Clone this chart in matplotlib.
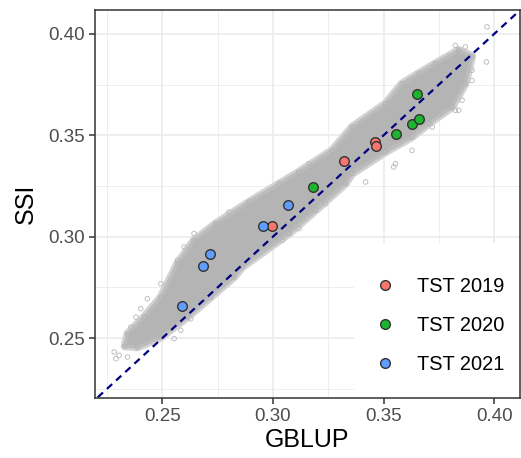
import numpy as np
import matplotlib
matplotlib.use("Agg")
import matplotlib.pyplot as plt
from matplotlib.lines import Line2D
from matplotlib.patches import Rectangle

plt.rcParams['font.family'] = ['Liberation Sans', 'DejaVu Sans']

# TST points
gblup_2019 = [0.2994, 0.3319, 0.3462, 0.3468]
ssi_2019 = [0.3051, 0.3373, 0.3466, 0.3447]
gblup_2020 = [0.3180, 0.3555, 0.3627, 0.3660, 0.3652]
ssi_2020 = [0.3243, 0.3508, 0.3556, 0.3580, 0.3704]
gblup_2021 = [0.2590, 0.2684, 0.2716, 0.2953, 0.3068]
ssi_2021 = [0.2659, 0.2854, 0.2914, 0.3051, 0.3154]

# outline of the dense grey cloud (upper edge left->right, lower edge right->left)
cloud_x = [0.2330, 0.2343, 0.2417, 0.2493, 0.2568, 0.2643, 0.2741, 0.2892, 0.3117,
           0.3268, 0.3358, 0.3509, 0.3584, 0.3659, 0.3735, 0.3840, 0.3900,
           0.3870, 0.3810, 0.3705, 0.3629, 0.3509, 0.3358, 0.3328, 0.3193,
           0.3072, 0.2861, 0.2824, 0.2719, 0.2613, 0.2493, 0.2387]
cloud_y = [0.2460, 0.2521, 0.2603, 0.2702, 0.2867, 0.2982, 0.3064, 0.3171, 0.3319,
           0.3426, 0.3541, 0.3656, 0.3755, 0.3805, 0.3854, 0.3920, 0.3890,
           0.3755, 0.3640, 0.3558, 0.3492, 0.3418, 0.3311, 0.3262, 0.3130,
           0.3015, 0.2850, 0.2801, 0.2702, 0.2603, 0.2504, 0.2455]

# scattered points around the cloud
sparse_x = [0.2282, 0.2304, 0.2342, 0.2290, 0.2357, 0.2380, 0.2402, 0.2432, 0.2493,
            0.2568, 0.2598, 0.2643, 0.2733, 0.2553, 0.2583, 0.2628, 0.2801, 0.2877,
            0.3027, 0.3163, 0.3117, 0.3042, 0.3238, 0.3403, 0.3524, 0.3614, 0.3825,
            0.3870, 0.3825, 0.3855, 0.3900, 0.3720, 0.3554, 0.3629, 0.3968, 0.3965,
            0.3900, 0.3840, 0.3546, 0.3419]
sparse_y = [0.2431, 0.2414, 0.2406, 0.2398, 0.2554, 0.2603, 0.2645, 0.2694, 0.2768,
            0.2883, 0.2949, 0.3015, 0.3047, 0.2497, 0.2538, 0.2595, 0.3121, 0.3146,
            0.3262, 0.3360, 0.3040, 0.2982, 0.3163, 0.3566, 0.3664, 0.3771, 0.3944,
            0.3936, 0.3623, 0.3673, 0.3821, 0.3541, 0.3360, 0.3426, 0.4035, 0.3862,
            0.3770, 0.3624, 0.3344, 0.3270]

fig = plt.figure(figsize=(5.21, 4.58), dpi=100)
ax = fig.add_axes([0.1823, 0.131, 0.8157, 0.847])

ax.set_xlim(0.2195, 0.4117)
ax.set_ylim(0.2204, 0.4118)

# soft halo, then the dense core
ax.fill(cloud_x, cloud_y, color='#cdcdcd', lw=6, ec='#d2d2d2', joinstyle='round', zorder=2)
ax.fill(cloud_x, cloud_y, color='#b4b4b4', lw=2.5, ec='#bcbcbc', joinstyle='round', zorder=2)
ax.scatter(cloud_x, cloud_y, s=11, facecolors='none', edgecolors='#b3b3b3',
           linewidths=0.6, zorder=2)
ax.scatter(sparse_x, sparse_y, s=11, facecolors='none', edgecolors='#b8b8b8',
           linewidths=0.6, zorder=2)

ax.plot([0.2, 0.45], [0.2, 0.45], ls=(0, (3.2, 2.4)), color='#00007f', lw=1.6, zorder=3)

for gx, gy, col in [(gblup_2019, ssi_2019, '#F8766D'),
                    (gblup_2020, ssi_2020, '#1DB52E'),
                    (gblup_2021, ssi_2021, '#619CFF')]:
    ax.scatter(gx, gy, s=48, color=col, edgecolors='#333333', linewidths=1.0, zorder=4)

ax.set_xticks([0.25, 0.30, 0.35, 0.40])
ax.set_yticks([0.25, 0.30, 0.35, 0.40])
ax.set_xticklabels(['0.25', '0.30', '0.35', '0.40'])
ax.set_yticklabels(['0.25', '0.30', '0.35', '0.40'])
ax.set_xticks([0.225, 0.275, 0.325, 0.375], minor=True)
ax.set_yticks([0.225, 0.275, 0.325, 0.375], minor=True)
ax.grid(which='major', color='#ebebeb', lw=1.2, zorder=0)
ax.grid(which='minor', color='#ebebeb', lw=0.6, zorder=0)
ax.set_axisbelow(True)
ax.tick_params(which='major', length=4, width=1.1, color='#333333',
               labelsize=13.5, labelcolor='#4d4d4d', pad=3)
ax.tick_params(which='minor', length=0)
for sp in ax.spines.values():
    sp.set_color('#333333')
    sp.set_linewidth(1.1)
    sp.set_zorder(6)

ax.set_xlabel('GBLUP', fontsize=18, labelpad=2)
ax.set_ylabel('SSI', fontsize=18, labelpad=8)

# white legend background
ax.add_patch(Rectangle((0.609, 0.0), 0.391, 0.40, transform=ax.transAxes,
                       facecolor='white', edgecolor='none', zorder=4.5))
handles = [Line2D([], [], ls='none', marker='o', ms=7, mfc=c, mec='#333333', mew=1.0)
           for c in ['#F8766D', '#1DB52E', '#619CFF']]
leg = ax.legend(handles, ['TST 2019', 'TST 2020', 'TST 2021'], loc='center left',
                bbox_to_anchor=(0.645, 0.186), fontsize=14.4, frameon=False,
                handletextpad=0.8, labelspacing=1.0, borderpad=0.0,
                borderaxespad=0.0, handlelength=1.6)
leg.set_zorder(5)

fig.savefig('out.png', dpi=100)
